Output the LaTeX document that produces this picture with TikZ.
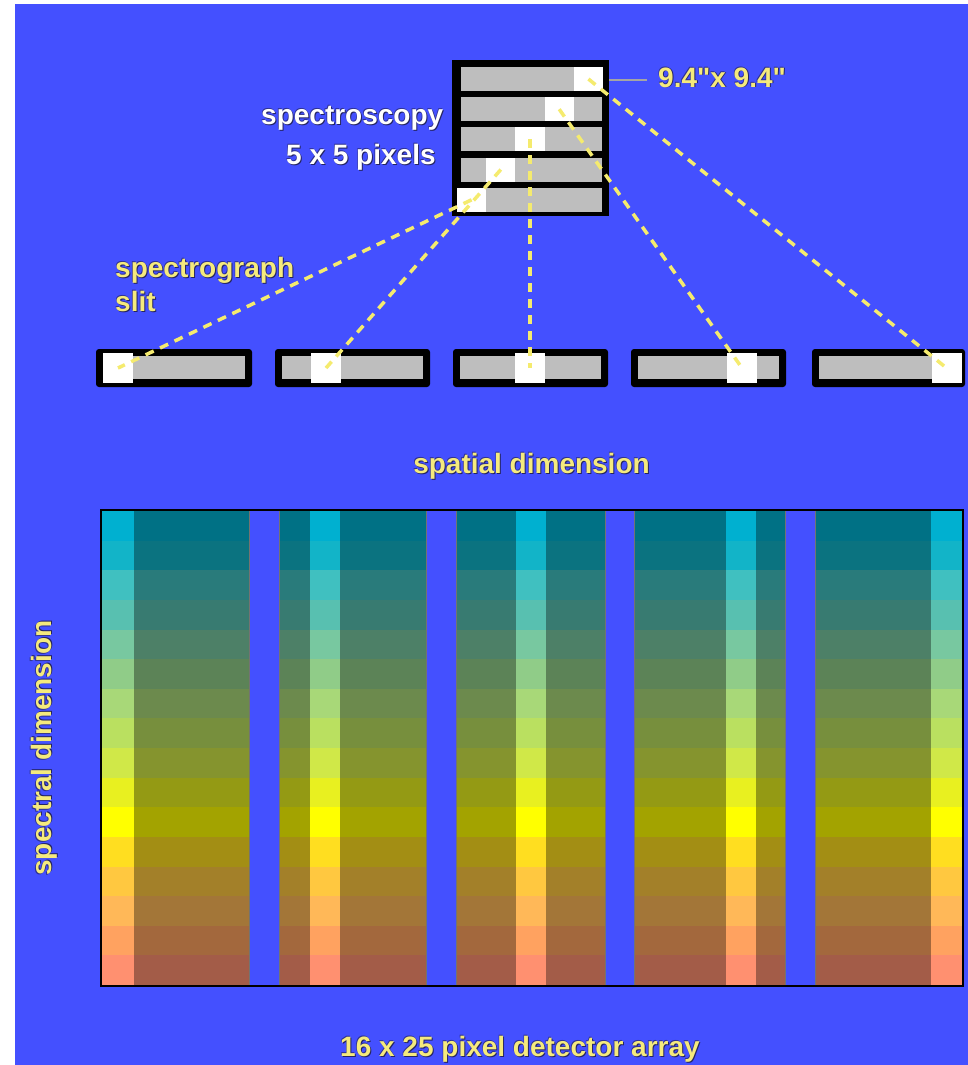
\documentclass[tikz,border=0pt]{standalone}
\usepackage{fontspec}
\setmainfont{Liberation Sans}

\definecolor{bg}{RGB}{68,80,255}
\definecolor{labelyellow}{RGB}{245,234,125}
\definecolor{raycolor}{RGB}{245,235,110}
\definecolor{edge}{RGB}{36,36,96}
\definecolor{slitgray}{RGB}{190,190,190}
\definecolor{pointergray}{RGB}{165,165,165}

% spectral row colours, blue end at the top, red end at the bottom
\definecolor{sp1}{RGB}{0,176,208}
\definecolor{sp2}{RGB}{18,180,200}
\definecolor{sp3}{RGB}{64,192,192}
\definecolor{sp4}{RGB}{88,192,176}
\definecolor{sp5}{RGB}{120,200,160}
\definecolor{sp6}{RGB}{144,204,136}
\definecolor{sp7}{RGB}{168,216,120}
\definecolor{sp8}{RGB}{186,224,96}
\definecolor{sp9}{RGB}{208,232,72}
\definecolor{sp10}{RGB}{232,240,32}
\definecolor{sp11}{RGB}{255,255,0}
\definecolor{sp12}{RGB}{255,222,32}
\definecolor{sp13}{RGB}{255,200,64}
\definecolor{sp14}{RGB}{255,184,88}
\definecolor{sp15}{RGB}{255,162,96}
\definecolor{sp16}{RGB}{255,144,112}

% bold lettering with a dark edge
\newcommand\glowtext[1]{\leavevmode
  \rlap{\kern1pt\raisebox{-1pt}{\textcolor{edge}{#1}}}%
  \rlap{\kern-0.6pt\raisebox{0.6pt}{\textcolor{edge!70!bg}{#1}}}%
  #1}

\tikzset{
  lbl/.style={font=\bfseries\fontsize{28}{34}\selectfont, inner sep=0pt, text=labelyellow},
  wlbl/.style={lbl, text=white},
  cellpix/.style={fill=white, draw=none, minimum width=29.2pt, minimum height=24pt, inner sep=0pt},
  slitpix/.style={fill=white, draw=none, minimum width=30pt, minimum height=30pt, inner sep=0pt},
  slitbar/.style={fill=black, rounded corners=3pt},
  ray/.style={draw=raycolor, line width=3.5pt, dash pattern=on 9pt off 7pt},
}

\begin{document}
\begin{tikzpicture}[x=1pt, y=-1pt]
\useasboundingbox (0,0) rectangle (968,1065);
\fill[white] (0,0) rectangle (968,1065);
\fill[bg] (15,4) rectangle (968,1065);

% ---- 5 x 5 spectroscopy field ----
\node[fill=black, minimum width=157pt, minimum height=156pt, inner sep=0pt] (grid) at (530.5,138) {};
\foreach \r in {0,...,4} {
  \fill[slitgray] (461,{67+30.2*\r}) rectangle (602,{91+30.2*\r});
}
\node[cellpix] (b1) at (588.4,79) {};
\node[cellpix] (b2) at (559.2,109.2) {};
\node[cellpix] (b3) at (530,139.4) {};
\node[cellpix] (b4) at (500.8,169.6) {};
\node[cellpix] (b5) at (471.6,199.8) {};

% ---- the five slit images ----
\foreach \xa/\xb in {96/252, 275/430, 453/608, 631/786, 812/965} {
  \fill[slitbar] (\xa,349) rectangle (\xb,387);
  \fill[slitgray] ({\xa+7},356) rectangle ({\xb-7},379);
}
\node[slitpix] (s1) at (118,368) {};
\node[slitpix] (s2) at (326,368) {};
\node[slitpix] (s3) at (530,368) {};
\node[slitpix] (s4) at (742,368) {};
\node[slitpix] (s5) at (946.5,368) {};

% ---- rays from each field pixel to its slit position ----
\draw[ray] (b5.center) -- (s1.center);
\draw[ray] (b4.center) -- (s2.center);
\draw[ray] (b3.center) -- (s3.center);
\draw[ray] (b2.center) -- (s4.center);
\draw[ray] (b1.center) -- (s5.center);

% ---- pixel size pointer ----
\node[lbl, anchor=base west] (size) at (658,87) {\glowtext{9.4\textquotedbl x 9.4\textquotedbl}};
\coordinate (tick) at (647,80);
\draw[pointergray, line width=2pt] (grid.east |- tick) -- (tick);

% ---- labels ----
\node[wlbl, anchor=base west] (spec) at (261,124) {\glowtext{spectroscopy}};
\node[wlbl, anchor=base west] (five) at (286,164) {\glowtext{5 x 5 pixels}};
\node[lbl, anchor=base west] (slitA) at (115,277) {\glowtext{spectrograph}};
\node[lbl, anchor=base west] (slitB) at (115,311) {\glowtext{slit}};
\node[lbl, anchor=base] (spatial) at (531.5,473) {\glowtext{spatial dimension}};
\node[lbl, rotate=90] (spectral) at (44,748) {\glowtext{spectral dimension}};
\node[lbl, anchor=base] (array) at (520,1056) {\glowtext{16 x 25 pixel detector array}};

% ---- detector array: five spectra side by side ----
\foreach \xa/\xb/\la/\lb in {101.5/249.3/101.5/134, 279.3/426.7/310/340, 456.7/605/516/546, 634.3/785.7/725.7/755.7, 815.7/962/931/962} {
  \foreach \i in {1,...,16} {
    \fill[sp\i!64!black] (\xa,{511+(\i-1)*29.625}) rectangle (\xb,{511+\i*29.625});
    \fill[sp\i] (\la,{511+(\i-1)*29.625}) rectangle (\lb,{511+\i*29.625});
  }
  \draw[black!55, line width=0.8pt] (\xa,511) -- (\xa,985) (\xb,511) -- (\xb,985);
}
\draw[black, line width=2pt] (100.5,510) rectangle (963,986);
\end{tikzpicture}
\end{document}
